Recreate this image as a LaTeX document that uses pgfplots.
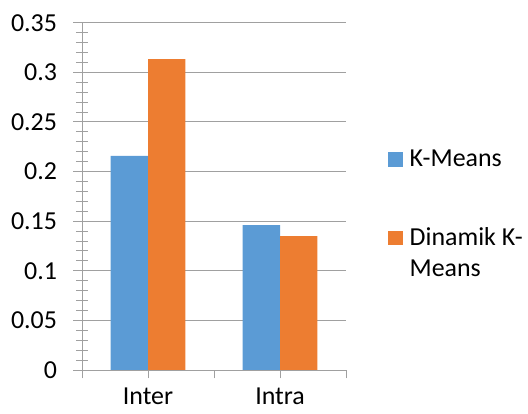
\documentclass[border=0pt]{standalone}
\usepackage{pgfplots}
\pgfplotsset{compat=1.18}
\usepackage{fontspec}
\setmainfont{Carlito}
\definecolor{kblue}{HTML}{5B9BD5}
\definecolor{korange}{HTML}{ED7D31}
\definecolor{axgray}{HTML}{A0A0A0}
\begin{document}
\begin{tikzpicture}
\path[use as bounding box] (0,0) rectangle (528bp,414bp);
\begin{axis}[
  at={(82bp,44bp)}, anchor=south west,
  width=264bp, height=347.3bp, scale only axis,
  ybar=0pt, bar width=37.3bp,
  xmin=-0.5, xmax=1.5, ymin=0, ymax=0.35,
  axis lines*=left,
  axis line style={axgray, line width=1bp},
  xtick={-0.5,0,0.5,1,1.5},
  xticklabels={,Inter,,Intra,},
  ytick={0,0.05,0.1,0.15,0.2,0.25,0.3,0.35},
  yticklabels={0,0.05,0.1,0.15,0.2,0.25,0.3,0.35},
  minor ytick={0.01,0.02,0.03,0.04,0.06,0.07,0.08,0.09,0.11,0.12,0.13,0.14,0.16,0.17,0.18,0.19,0.21,0.22,0.23,0.24,0.26,0.27,0.28,0.29,0.31,0.32,0.33,0.34},
  tick align=outside,
  major tick length=8.5bp,
  minor tick length=12bp,
  tick style={axgray, line width=1bp},
  minor tick style={xshift=6bp},
  ymajorgrids,
  major grid style={axgray, line width=1bp},
  ticklabel style={font=\fontsize{26}{31}\selectfont, text=black},
  yticklabel style={anchor=east, xshift=-13bp},
  xticklabel style={yshift=-6bp},
  legend style={draw=none, fill=none, at={(axis description cs:1.147,0.645)}, anchor=north west,
    font=\fontsize{26}{31.7}\selectfont, row sep=55bp, column sep=5bp,
    cells={anchor=base west}},
  legend image code/.code={\fill[#1] (0bp,0bp) rectangle (14.7bp,14.7bp);},
]
\addplot[fill=kblue, draw=none] coordinates {(0,0.2157) (1,0.1461)};
\addlegendentry{K-Means}
\addplot[fill=korange, draw=none] coordinates {(0,0.3134) (1,0.1350)};
\addlegendentry{\vtop{\hbox{Dinamik K-}\hbox{Means}}}
\end{axis}
\end{tikzpicture}
\end{document}
